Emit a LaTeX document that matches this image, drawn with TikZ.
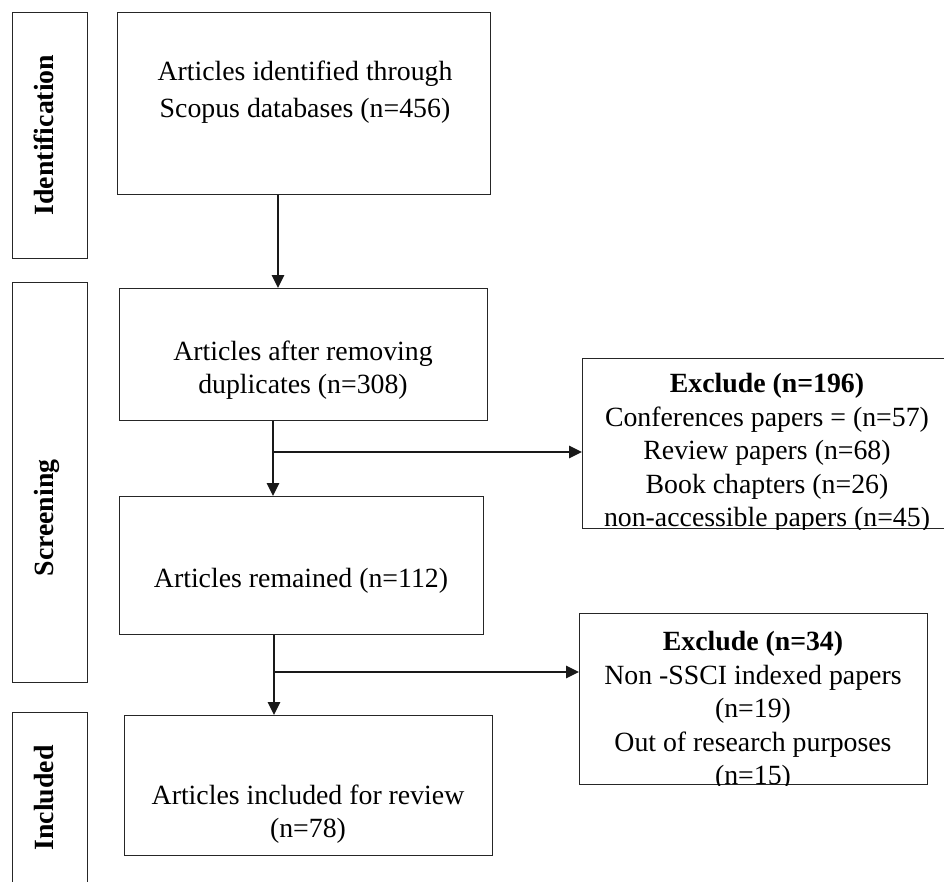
\documentclass[tikz,border=0pt]{standalone}
\usepackage{fontspec}
\setmainfont{Liberation Serif}
\usetikzlibrary{arrows.meta}
\begin{document}
\begin{tikzpicture}[x=1pt,y=-1pt,
	box/.style={draw=black!85,line width=1.4pt,anchor=north west,inner sep=0pt},
	txt/.style={align=center,inner sep=0pt,font=\fontsize{27.8}{33.5}\selectfont},
	phase/.style={inner sep=0pt,font=\fontsize{27.8}{33.5}\selectfont\bfseries,rotate=90,anchor=base},
	flow/.style={line width=2.6pt,black!90,-{Triangle[length=13pt,width=12pt]}},
	]
	\useasboundingbox (0,0) rectangle (944,881);
	\clip (0,0) rectangle (944,881);
	\node[box,minimum width=75pt,minimum height=246pt] (ident) at (12,12) {};
	\node[box,minimum width=75pt,minimum height=400pt] (screen) at (12,282) {};
	\node[box,minimum width=75pt,minimum height=220pt] (incl) at (12,712) {};
	\node[phase] (identlbl) at (53,135) {Identification};
	\node[phase] (screenlbl) at (53,518) {Screening};
	\node[phase] (incllbl) at (53,798) {Included};
	\node[box,minimum width=373pt,minimum height=182pt] (found) at (117,12) {};
	\node[box,minimum width=368pt,minimum height=132pt] (dedup) at (119,288) {};
	\node[box,minimum width=364pt,minimum height=138pt] (remain) at (119,496) {};
	\node[box,minimum width=368pt,minimum height=140pt] (review) at (124,715) {};
	\node[box,minimum width=380pt,minimum height=170pt] (excla) at (582,358) {};
	\node[box,minimum width=348pt,minimum height=171pt] (exclb) at (579,613) {};
	\node[txt] (foundtxt) at (305,92) {Articles identified through\\[3pt] Scopus databases (n=456)};
	\node[txt] (deduptxt) at (303,370) {Articles after removing\\ duplicates (n=308)};
	\node[txt,anchor=base] (remaintxt) at (301,587) {Articles remained (n=112)};
	\node[txt] (reviewtxt) at (308,814) {Articles included for review\\ (n=78)};
	\begin{scope}
		\clip (excla.north west) rectangle (excla.south east);
		\node[txt] (exclatxt) at (767,453) {\textbf{Exclude (n=196)}\\ Conferences papers = (n=57)\\ Review papers (n=68)\\ Book chapters (n=26)\\ non-accessible papers (n=45)};
	\end{scope}
	\begin{scope}
		\clip (exclb.north west) rectangle (exclb.south east);
		\node[txt] (exclbtxt) at (753,711) {\textbf{Exclude (n=34)}\\ Non -SSCI indexed papers\\ (n=19)\\ Out of research purposes\\ (n=15)};
	\end{scope}
	\coordinate (c1) at (278,0);
	\coordinate (s1) at (273,452);
	\coordinate (s2) at (274,672);
	\draw[flow] (found.south -| c1) -- (dedup.north -| c1);
	\draw[flow] (dedup.south -| s1) -- (remain.north -| s1);
	\draw[flow] (s1) -- (s1 -| excla.west);
	\draw[flow] (remain.south -| s2) -- (review.north -| s2);
	\draw[flow] (s2) -- (s2 -| exclb.west);
\end{tikzpicture}
\end{document}
